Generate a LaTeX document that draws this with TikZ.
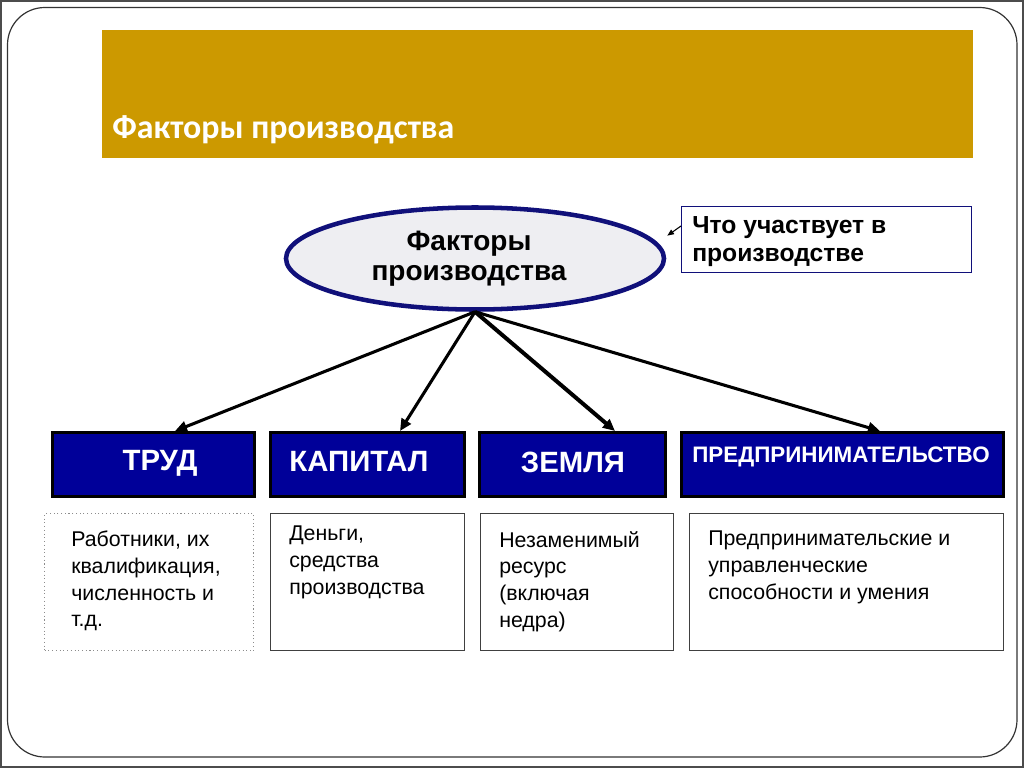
\documentclass[tikz,border=0pt]{standalone}
\usepackage{fontspec}
\setmainfont{Liberation Sans}
\newfontfamily\titlefont{Carlito}
\usetikzlibrary{arrows.meta,shapes.geometric}
\definecolor{gold}{HTML}{CC9900}
\definecolor{navy}{HTML}{000099}
\definecolor{ringblue}{HTML}{10107A}
\definecolor{ellfill}{HTML}{EEEEF2}
\tikzset{
  catbox/.style={draw=black,line width=2.2pt,fill=navy,rectangle,inner sep=0pt,anchor=north west},
  catlabel/.style={text=white,font=\fontsize{22}{24}\selectfont\bfseries,inner sep=0pt},
  descbox/.style={draw=black!75,line width=0.8pt,fill=white,rectangle,inner sep=0pt,anchor=north west},
  desctext/.style={font=\fontsize{16}{20}\selectfont,align=left,anchor=north west,inner sep=0pt},
  feed/.style={line width=2.3pt,-{Triangle[length=9pt,width=8pt]}},
}
\begin{document}
\begin{tikzpicture}[x=0.75pt,y=-0.75pt]
\useasboundingbox (0,0) rectangle (1024,768);
% frame
\draw[black!70,line width=0.8pt] (1,1) rectangle (1023,767);
\draw[black!80,line width=0.9pt,rounded corners=28pt] (7.5,7.5) rectangle (1017,757);
% banner
\fill[gold] (102,30) rectangle (973,158);
\node[anchor=west,text=white,font=\titlefont\fontsize{25.4}{28}\selectfont\bfseries,inner sep=0pt] (title) at (112,130) {Факторы производства};
% ellipse
\node[draw=ringblue,line width=3.4pt,fill=ellfill,ellipse,minimum width=283.5pt,minimum height=76.5pt,inner sep=0pt,align=center,font=\fontsize{21}{22.5}\selectfont\bfseries] (fp) at (475,258.5) {\hspace*{-9pt}Факторы\\\hspace*{-9pt}производства};
% callout
\node[draw=ringblue,line width=0.8pt,fill=white,rectangle,anchor=north west,minimum width=217.5pt,minimum height=49.5pt,inner sep=0pt] (cb) at (681,206) {};
\node[anchor=north west,align=left,inner sep=0pt,font=\fontsize{18.5}{21}\selectfont\bfseries] (cbt) at (692,216) {Что участвует в\\производстве};
\coordinate (cbs) at (681,226);
\draw[line width=0.8pt,shorten >=9pt,-{Triangle[length=5pt,width=4pt]}] (cbs) -- (fp.5);
% category boxes
\node[catbox,minimum width=151.5pt,minimum height=48pt] (b1) at (51,431) {};
\node[catbox,minimum width=145.5pt,minimum height=48pt] (b2) at (269,431) {};
\node[catbox,minimum width=139.5pt,minimum height=48pt] (b3) at (478,431) {};
\node[catbox,minimum width=241.5pt,minimum height=48pt] (b4) at (680,431) {};
\node[catlabel] (l1) at (160,463) {ТРУД};
\node[catlabel] (l2) at (359,462) {КАПИТАЛ};
\node[catlabel] (l3) at (573,462) {ЗЕМЛЯ};
\node[catlabel,font=\fontsize{16.8}{20}\selectfont\bfseries] (l4) at (841,457) {ПРЕДПРИНИМАТЕЛЬСТВО};
% arrows
\coordinate (a1) at (175,431);
\coordinate (a2) at (400,431);
\coordinate (a3) at (615,431);
\coordinate (a4) at (880,431);
\draw[feed] (fp.south) -- (a1);
\draw[feed] (fp.south) -- (a2);
\draw[feed,line width=3pt] (fp.south) -- (a3);
\draw[feed] (fp.south) -- (a4);
% description boxes
\node[descbox,draw=black!45,dotted,line width=1pt,minimum width=156.75pt,minimum height=102.75pt] (d1) at (44,513) {};
\node[descbox,minimum width=145.5pt,minimum height=102.75pt] (d2) at (270,513) {};
\node[descbox,minimum width=144.75pt,minimum height=102.75pt] (d3) at (480,513) {};
\node[descbox,minimum width=235.5pt,minimum height=102.75pt] (d4) at (689,513) {};
\node[desctext] (t1) at (71,531) {Работники, их\\квалификация,\\численность и\\т.д.};
\node[desctext] (t2) at (289,526) {Деньги,\\средства\\производства};
\node[desctext] (t3) at (499,531) {Незаменимый\\ресурс\\(включая\\недра)};
\node[desctext] (t4) at (708,531) {Предпринимательские и\\управленческие\\способности и умения};
\end{tikzpicture}
\end{document}
